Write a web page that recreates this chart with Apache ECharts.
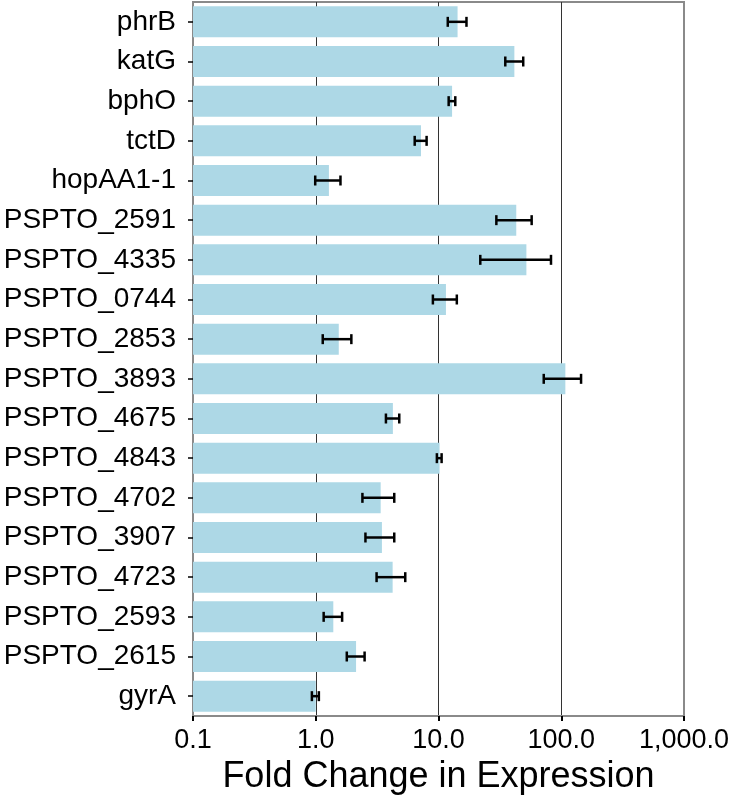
<!DOCTYPE html>
<html>
<head>
<meta charset="utf-8">
<script src="https://cdn.jsdelivr.net/npm/echarts@6/dist/echarts.min.js"></script>
<style>html,body{margin:0;padding:0;background:#fff}#c{width:733px;height:800px}</style>
</head>
<body>
<div id="c"></div>
<script>
const categories = ['phrB','katG','bphO','tctD','hopAA1-1','PSPTO_2591','PSPTO_4335','PSPTO_0744','PSPTO_2853','PSPTO_3893','PSPTO_4675','PSPTO_4843','PSPTO_4702','PSPTO_3907','PSPTO_4723','PSPTO_2593','PSPTO_2615','gyrA'];
const foldChange = [14.3, 41.5, 12.9, 7.2, 1.28, 43, 52, 11.5, 1.54, 108, 4.25, 10.2, 3.38, 3.46, 4.23, 1.39, 2.13, 1.0];
const errLow  = [11.9, 35, 12.1, 6.4, 0.99, 29.6, 21.9, 9.0, 1.14, 72, 3.73, 9.7, 2.40, 2.54, 3.13, 1.16, 1.79, 0.93];
const errHigh = [16.9, 49, 13.7, 8.0, 1.59, 57.4, 82.5, 14.1, 1.95, 145, 4.79, 10.6, 4.36, 4.36, 5.36, 1.64, 2.50, 1.06];
const xTicks = [0.1, 1000];
const axisTitle = 'Fold Change in Expression';

const FONT = '"Liberation Sans", Arial, Helvetica, sans-serif';
const chart = echarts.init(document.getElementById('c'), null, {renderer: 'canvas'});

const barData = categories.map((c, i) => [foldChange[i], i]);
const errData = categories.map((c, i) => [errLow[i], errHigh[i], i]);

chart.setOption({
  animation: false,
  backgroundColor: '#fff',
  grid: {left: 193, right: 49, top: 2, bottom: 81, show: true, borderColor: '#8a8a8a', borderWidth: 2, backgroundColor: 'transparent'},
  xAxis: {
    type: 'log', logBase: 10, min: xTicks[0], max: xTicks[1],
    name: axisTitle, nameLocation: 'middle', nameGap: 43,
    nameTextStyle: {fontFamily: FONT, fontSize: 36, color: '#000'},
    axisLine: {show: true, lineStyle: {color: '#8a8a8a', width: 2}},
    axisTick: {show: true, length: 5, lineStyle: {color: '#000', width: 2}},
    axisLabel: {
      fontFamily: FONT, fontSize: 27, color: '#000', margin: 11,
      showMinLabel: true, showMaxLabel: true,
      formatter: v => v < 1 ? Number(v).toFixed(1) : Number(v).toLocaleString('en-US', {minimumFractionDigits: 1, maximumFractionDigits: 1})
    },
    splitLine: {show: true, lineStyle: {color: ['#8a8a8a', '#333', '#333', '#333', '#8a8a8a'], width: 1}}
  },
  yAxis: {
    type: 'category', inverse: true, data: categories,
    axisLine: {show: true, lineStyle: {color: '#8a8a8a', width: 2}},
    axisTick: {show: true, length: 5, alignWithLabel: true, lineStyle: {color: '#000', width: 1.5}},
    axisLabel: {fontFamily: FONT, fontSize: 28, color: '#000', margin: 17},
    splitLine: {show: false}
  },
  series: [
    {
      type: 'custom',
      data: barData,
      encode: {x: 0, y: 1},
      renderItem: function (params, api) {
        const v = api.value(0), idx = api.value(1);
        const start = api.coord([xTicks[0], idx]);
        const end = api.coord([v, idx]);
        const h = api.size([0, 1])[1] * 0.78;
        return {type: 'rect', shape: {x: start[0], y: start[1] - h / 2, width: end[0] - start[0], height: h}, style: {fill: '#ADD8E6'}};
      },
      z: 2
    },
    {
      type: 'custom',
      data: errData,
      encode: {x: [0, 1], y: 2},
      renderItem: function (params, api) {
        const lo = api.coord([api.value(0), api.value(2)]);
        const hi = api.coord([api.value(1), api.value(2)]);
        const cap = 5;
        const st = {stroke: '#000', lineWidth: 2.5};
        return {type: 'group', children: [
          {type: 'line', shape: {x1: lo[0], y1: lo[1], x2: hi[0], y2: hi[1]}, style: st},
          {type: 'line', shape: {x1: lo[0], y1: lo[1] - cap, x2: lo[0], y2: lo[1] + cap}, style: st},
          {type: 'line', shape: {x1: hi[0], y1: hi[1] - cap, x2: hi[0], y2: hi[1] + cap}, style: st}
        ]};
      },
      z: 3
    }
  ]
});
</script>
</body>
</html>
